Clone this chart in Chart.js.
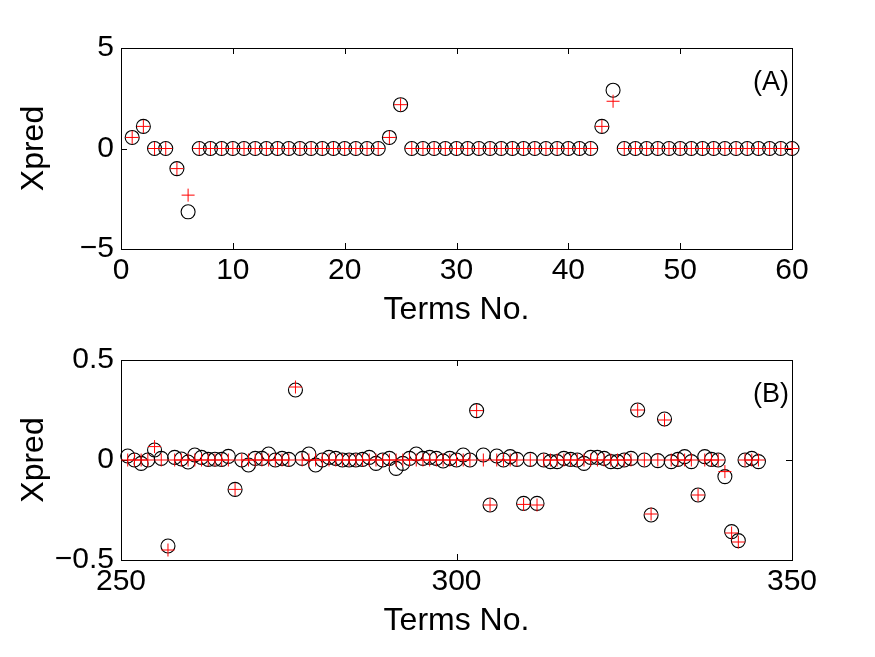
<!DOCTYPE html>
<html lang="en">
<head>
  <meta charset="UTF-8" />
  <title>Xpred vs Terms No.</title>
  <script src="https://cdn.jsdelivr.net/npm/chart.js@4"></script>
  <style>
    body { margin: 0; background: #fff; }
    .panel { position: absolute; left: 0; width: 875px; }
    #boxA { top: 0; height: 330px; }
    #boxB { top: 330px; height: 327px; }
  </style>
</head>
<body>
  <div class="panel" id="boxA"><canvas id="chartA"></canvas></div>
  <div class="panel" id="boxB"><canvas id="chartB"></canvas></div>

  <script>
    // panel (A): terms 1..60
    const termsA = [1, 2, 3, 4, 5, 6, 7, 8, 9, 10, 11, 12, 13, 14, 15, 16, 17, 18, 19, 20,
      21, 22, 23, 24, 25, 26, 27, 28, 29, 30, 31, 32, 33, 34, 35, 36, 37, 38, 39, 40,
      41, 42, 43, 44, 45, 46, 47, 48, 49, 50, 51, 52, 53, 54, 55, 56, 57, 58, 59, 60];
    const circlesA = [0.55, 1.1, 0, 0, -1.0, -3.15, 0, 0, 0, 0, 0, 0, 0, 0, 0, 0, 0, 0, 0, 0,
      0, 0, 0, 0.55, 2.18, 0, 0, 0, 0, 0, 0, 0, 0, 0, 0, 0, 0, 0, 0, 0,
      0, 0, 1.1, 2.9, 0, 0, 0, 0, 0, 0, 0, 0, 0, 0, 0, 0, 0, 0, 0, 0];
    const crossesA = [0.55, 1.1, 0, 0, -1.0, -2.32, 0, 0, 0, 0, 0, 0, 0, 0, 0, 0, 0, 0, 0, 0,
      0, 0, 0, 0.55, 2.18, 0, 0, 0, 0, 0, 0, 0, 0, 0, 0, 0, 0, 0, 0, 0,
      0, 0, 1.1, 2.35, 0, 0, 0, 0, 0, 0, 0, 0, 0, 0, 0, 0, 0, 0, 0, 0];
    const xTicksA = [0, 10, 20, 30, 40, 50, 60];
    const yTicksA = [-5, 0, 5];

    // panel (B): terms 251..345
    const termsB = [251, 252, 253, 254, 255, 256, 257, 258, 259, 260,
      261, 262, 263, 264, 265, 266, 267, 268, 269, 270,
      271, 272, 273, 274, 275, 276, 277, 278, 279, 280,
      281, 282, 283, 284, 285, 286, 287, 288, 289, 290,
      291, 292, 293, 294, 295, 296, 297, 298, 299, 300,
      301, 302, 303, 304, 305, 306, 307, 308, 309, 310,
      311, 312, 313, 314, 315, 316, 317, 318, 319, 320,
      321, 322, 323, 324, 325, 326, 327, 328, 329, 330,
      331, 332, 333, 334, 335, 336, 337, 338, 339, 340,
      341, 342, 343, 344, 345];
    const circlesB = [0.02, 0.0, -0.017, 0.0, 0.05, 0.008, -0.43, 0.013, 0.005, -0.01,
      0.025, 0.013, 0.003, 0.004, 0.003, 0.018, -0.147, 0.0, -0.025, 0.008,
      0.008, 0.03, 0.0, 0.008, 0.003, 0.35, 0.008, 0.03, -0.025, 0.0,
      0.013, 0.008, 0.0, 0.0, 0.0, 0.003, 0.013, -0.017, 0.0, 0.008,
      -0.042, -0.017, 0.008, 0.03, 0.008, 0.013, 0.008, -0.005, 0.008, 0.0,
      0.025, 0.0, 0.247, 0.025, -0.225, 0.02, 0.0, 0.017, 0.003, -0.217,
      0.003, -0.217, 0.0, -0.008, -0.008, 0.008, 0.003, 0.0, -0.017, 0.013,
      0.013, 0.008, -0.008, -0.008, 0.0, 0.008, 0.25, 0.0, -0.275, -0.003,
      0.205, -0.008, 0.003, 0.017, -0.008, -0.175, 0.017, 0.003, 0.0, -0.083,
      -0.358, -0.403, 0.0, 0.008, -0.008];
    const crossesB = [0, 0, 0, 0, 0.067, 0, -0.45, 0, 0, 0,
      0, 0, 0, 0, 0, 0, -0.147, 0, 0, 0,
      0, 0, 0, 0, 0, 0.365, 0, 0, 0, 0,
      0, 0, 0, 0, 0, 0, 0, 0, 0, 0,
      0, 0, 0, 0, 0, 0, 0, 0, 0, 0,
      0, 0, 0.247, 0, -0.225, 0, 0, 0, 0, -0.222,
      0, -0.225, 0, 0, 0, 0, 0, 0, 0, 0,
      0, 0, 0, 0, 0, 0, 0.25, 0, -0.27, 0,
      0.2, 0, 0, 0, 0, -0.175, 0, 0, 0, -0.058,
      -0.365, -0.41, 0, 0, 0];
    const xTicksB = [250, 300, 350];
    const yTicksB = [-0.5, 0, 0.5];

    const FONT = 'Liberation Sans, Arial, sans-serif';

    // matlab style frame: box plus inward ticks on all four sides, and the panel tag
    const framePlugin = {
      id: 'frame',
      beforeDatasetsDraw(chart, args, opts) {
        const { ctx, chartArea: a, scales: { x, y } } = chart;
        const t = 6;
        ctx.save();
        ctx.strokeStyle = '#000';
        ctx.lineWidth = 1;
        ctx.strokeRect(Math.round(a.left) + 0.5, Math.round(a.top) + 0.5,
          Math.round(a.width), Math.round(a.height));
        ctx.beginPath();
        x.ticks.forEach(tk => {
          const px = Math.round(x.getPixelForValue(tk.value)) + 0.5;
          ctx.moveTo(px, a.top); ctx.lineTo(px, a.top + t);
          ctx.moveTo(px, a.bottom); ctx.lineTo(px, a.bottom - t);
        });
        y.ticks.forEach(tk => {
          const py = Math.round(y.getPixelForValue(tk.value)) + 0.5;
          ctx.moveTo(a.left, py); ctx.lineTo(a.left + t, py);
          ctx.moveTo(a.right, py); ctx.lineTo(a.right - t, py);
        });
        ctx.stroke();
        ctx.fillStyle = '#000';
        ctx.font = '27px ' + FONT;
        ctx.textAlign = 'right';
        ctx.textBaseline = 'alphabetic';
        ctx.fillText(opts.tag, a.right - 3, a.top + 42);
        ctx.restore();
      }
    };

    const minus = v => String(v).replace('-', '\u2212');

    function makeChart(id, terms, circles, crosses, xTicks, yTicks, tag, pad) {
      const pts = vals => terms.map((t, i) => ({ x: t, y: vals[i] }));
      return new Chart(document.getElementById(id), {
        type: 'scatter',
        data: {
          datasets: [
            {
              data: pts(crosses),
              pointStyle: 'cross',
              pointRadius: 6.5,
              borderColor: '#ff0000',
              borderWidth: 1,
              clip: false
            },
            {
              data: pts(circles),
              pointStyle: 'circle',
              pointRadius: 7,
              borderColor: '#000',
              backgroundColor: 'rgba(0,0,0,0)',
              borderWidth: 1.1,
              clip: false
            }
          ]
        },
        options: {
          responsive: true,
          maintainAspectRatio: false,
          animation: false,
          events: [],
          layout: { padding: pad },
          plugins: { legend: { display: false }, tooltip: { enabled: false }, frame: { tag: tag } },
          scales: {
            x: {
              type: 'linear',
              min: xTicks[0],
              max: xTicks[xTicks.length - 1],
              afterBuildTicks: s => { s.ticks = xTicks.map(v => ({ value: v })); },
              afterFit: s => { s.height = 80; },
              grid: { display: false, drawTicks: false },
              border: { display: false },
              ticks: { color: '#000', padding: 4, maxRotation: 0, font: { family: FONT, size: 30 }, callback: minus },
              title: { display: true, text: 'Terms No.', color: '#000', font: { family: FONT, size: 32 }, padding: { top: 0, bottom: 0 } }
            },
            y: {
              type: 'linear',
              min: yTicks[0],
              max: yTicks[yTicks.length - 1],
              afterBuildTicks: s => { s.ticks = yTicks.map(v => ({ value: v })); },
              afterFit: s => { s.width = 121; },
              grid: { display: false, drawTicks: false },
              border: { display: false },
              ticks: { color: '#000', padding: 7, font: { family: FONT, size: 30 }, callback: minus },
              title: { display: true, text: 'Xpred', color: '#000', font: { family: FONT, size: 32 }, padding: { top: 15, bottom: 0 } }
            }
          }
        },
        plugins: [framePlugin]
      });
    }

    makeChart('chartA', termsA, circlesA, crossesA, xTicksA, yTicksA, '(A)',
      { top: 48, left: 0, right: 83, bottom: 1 });
    makeChart('chartB', termsB, circlesB, crossesB, xTicksB, yTicksB, '(B)',
      { top: 30, left: 0, right: 83, bottom: 17 });
  </script>
</body>
</html>
